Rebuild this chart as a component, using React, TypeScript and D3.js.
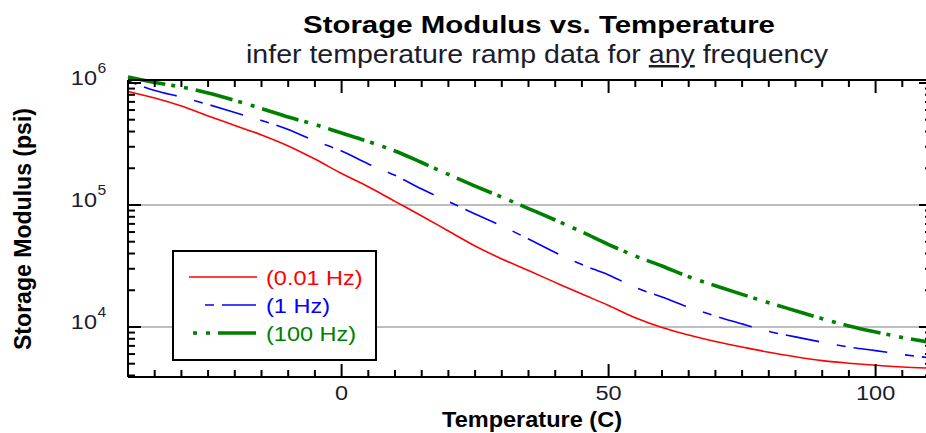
import React from "react";
import * as d3 from "d3";

const temps = [-40, -35, -30, -25, -20, -15, -10, -5, 0, 5, 10, 15, 20, 25, 30, 35, 40, 45, 50, 55, 60, 65, 70, 75, 80, 85, 90, 95, 100, 105, 110];
const hz001 = [851000, 753000, 647000, 537000, 449000, 375000, 305000, 238000, 181000, 141000, 107000, 81300, 61200, 46100, 36100, 29000, 23200, 18600, 15000, 11900, 9900, 8600, 7600, 6850, 6200, 5700, 5300, 5050, 4850, 4700, 4600];
const hz1 = [1040000, 869000, 767000, 667000, 573000, 493000, 416000, 335000, 277000, 217000, 175000, 135000, 107000, 84300, 67300, 52600, 40800, 32500, 26700, 21100, 17600, 14500, 12300, 10600, 9200, 8300, 7500, 6850, 6400, 5950, 5600];
const hz100 = [1120000, 1010000, 927000, 828000, 719000, 618000, 526000, 457000, 389000, 331000, 277000, 223000, 178000, 143000, 116000, 93500, 75300, 60100, 47400, 38200, 31600, 25800, 21800, 18500, 15800, 13600, 11700, 10200, 9100, 8200, 7500];
const seriesNames = ["(0.01 Hz)", "(1 Hz)", "(100 Hz)"];
const xMajorTicks = [0, 50, 100];
const yMajorExponents = [4, 5, 6];
const titleText = "Storage Modulus vs. Temperature";
const xTitle = "Temperature (C)";
const yTitle = "Storage Modulus (psi)";

const FONT = "'Liberation Sans', Arial, Helvetica, sans-serif";

export default function App() {
  const W = 926, H = 433;
  const L = 128, R = 929, T = 80, B = 377;
  const x = d3.scaleLinear().domain([-40, 110]).range([L, R]);
  const y = d3.scaleLog().domain([3890, 1.058e6]).range([B, T]);
  const frameR = R + 3;

  const xMinor = d3.range(-40, 111, 5).filter((v) => !xMajorTicks.includes(v));
  const yMinor: number[] = [];
  for (let k = 3; k <= 6; k++) {
    for (let m = 2; m <= 9; m++) {
      const v = m * Math.pow(10, k);
      if (v >= 3890 && v <= 1.058e6) yMinor.push(v);
    }
  }
  const yMajor = yMajorExponents.map((e) => Math.pow(10, e));

  const line = d3
    .line<[number, number]>()
    .x((d) => x(d[0]))
    .y((d) => y(d[1]))
    .curve(d3.curveMonotoneX);

  const series = [
    { name: seriesNames[0], vals: hz001, color: "#ff0000", width: 1.6, dash: undefined as string | undefined, offset: 0 },
    { name: seriesNames[1], vals: hz1, color: "#0000ff", width: 1.6, dash: "9 8 34 18", offset: 0 },
    { name: seriesNames[2], vals: hz100, color: "#008000", width: 3.6, dash: "38 6 4 9 4 8", offset: 44 },
  ];

  const majorLen = 13, minorLen = 7;
  const axisColor = "#000";
  const sx = 1.12;

  return (
    <svg width={W} height={H} style={{ position: "absolute", left: 0, top: 0, background: "#fff" }}>
      <rect x={0} y={0} width={W} height={H} fill="#fff" />
      {yMajor
        .filter((v) => y(v) > T + 5 && y(v) < B - 5)
        .map((v) => (
          <line key={"g" + v} x1={L} x2={frameR} y1={y(v)} y2={y(v)} stroke="#a8a8a8" strokeWidth={1.5} />
        ))}

      {series.map((s) => (
        <path
          key={s.name}
          d={line(temps.map((t, i) => [t, s.vals[i]] as [number, number])) || ""}
          fill="none"
          stroke={s.color}
          strokeWidth={s.width}
          strokeDasharray={s.dash}
        />
      ))}

      <line x1={L} x2={frameR} y1={B} y2={B} stroke={axisColor} strokeWidth={2} />
      <line x1={L} x2={frameR} y1={T} y2={T} stroke={axisColor} strokeWidth={2} />
      <line x1={L} x2={L} y1={T} y2={B} stroke={axisColor} strokeWidth={2} />
      <line x1={frameR} x2={frameR} y1={T} y2={B} stroke={axisColor} strokeWidth={2} />

      {xMajorTicks.map((v) => (
        <g key={"xm" + v}>
          <line x1={x(v)} x2={x(v)} y1={B} y2={B - majorLen} stroke={axisColor} strokeWidth={2} />
          <line x1={x(v)} x2={x(v)} y1={T} y2={T + majorLen} stroke={axisColor} strokeWidth={2} />
          <text
            transform={`translate(${x(v)},400) scale(${sx},1)`}
            textAnchor="middle"
            fontFamily={FONT}
            fontSize={21}
            fill="#1c1c2c"
          >
            {v}
          </text>
        </g>
      ))}
      {xMinor.map((v) => (
        <g key={"xn" + v}>
          <line x1={x(v)} x2={x(v)} y1={B} y2={B - minorLen} stroke={axisColor} strokeWidth={2} />
          <line x1={x(v)} x2={x(v)} y1={T} y2={T + minorLen} stroke={axisColor} strokeWidth={2} />
        </g>
      ))}

      {yMajor.map((v, i) => (
        <g key={"ym" + v}>
          <line x1={L} x2={L + majorLen} y1={y(v)} y2={y(v)} stroke={axisColor} strokeWidth={2} />
          <line x1={frameR} x2={frameR - majorLen} y1={y(v)} y2={y(v)} stroke={axisColor} strokeWidth={2} />
          <text
            transform={`translate(97,${y(v) + 2}) scale(${sx},1)`}
            textAnchor="end"
            fontFamily={FONT}
            fontSize={21}
            fill="#1c1c2c"
          >
            10
          </text>
          <text
            transform={`translate(97.5,${y(v) - 10}) scale(${sx},1)`}
            textAnchor="start"
            fontFamily={FONT}
            fontSize={14}
            fill="#1c1c2c"
          >
            {yMajorExponents[i]}
          </text>
        </g>
      ))}
      {yMinor.map((v) => (
        <g key={"yn" + v}>
          <line x1={L} x2={L + minorLen} y1={y(v)} y2={y(v)} stroke={axisColor} strokeWidth={2} />
          <line x1={frameR} x2={frameR - minorLen} y1={y(v)} y2={y(v)} stroke={axisColor} strokeWidth={2} />
        </g>
      ))}

      <text x={303} y={33} fontFamily={FONT} fontWeight="bold" fontSize={24} textLength={472} lengthAdjust="spacingAndGlyphs" fill="#000">
        {titleText}
      </text>
      <text x={246} y={63} fontFamily={FONT} fontSize={25} textLength={582} lengthAdjust="spacingAndGlyphs" fill="#1c1c2c">
        infer temperature ramp data for <tspan textDecoration="underline" style={{ textDecoration: "underline" }}>any</tspan> frequency
      </text>
      <text
        x={532}
        y={427}
        textAnchor="middle"
        fontFamily={FONT}
        fontWeight="bold"
        fontSize={22}
        textLength={180}
        lengthAdjust="spacingAndGlyphs"
        fill="#000"
      >
        {xTitle}
      </text>
      <text
        transform={`translate(31,229) rotate(-90)`}
        textAnchor="middle"
        fontFamily={FONT}
        fontWeight="bold"
        fontSize={23}
        textLength={242}
        lengthAdjust="spacingAndGlyphs"
        fill="#000"
      >
        {yTitle}
      </text>

      <rect x={173} y={251} width={203} height={109} fill="#fff" stroke="#000" strokeWidth={2} />
      {series.map((s, i) => {
        const ly = 277 + i * 28;
        const x1 = i === 0 ? 189 : i === 1 ? 205 : 193;
        return (
          <g key={"lg" + s.name}>
            <line
              x1={x1}
              x2={257}
              y1={ly}
              y2={ly}
              stroke={s.color}
              strokeWidth={s.width}
              strokeDasharray={s.dash}
              strokeDashoffset={s.offset}
            />
            <text
              transform={`translate(266,${ly + 8}) scale(${sx},1)`}
              fontFamily={FONT}
              fontSize={21}
              fill={s.color}
            >
              {s.name}
            </text>
          </g>
        );
      })}
    </svg>
  );
}
